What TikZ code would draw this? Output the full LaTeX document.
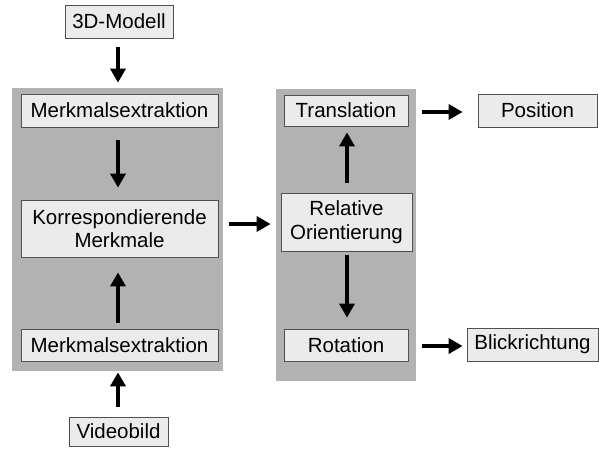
\documentclass[tikz,border=0pt]{standalone}
\usepackage{fontspec}
\setmainfont{Liberation Sans}
\usetikzlibrary{arrows.meta}
\definecolor{panelgray}{HTML}{B2B2B2}
\definecolor{boxfill}{HTML}{EBEBEB}
\definecolor{boxline}{HTML}{505050}
\begin{document}
\begin{tikzpicture}[x=1pt,y=-1pt,
  panel/.style={fill=panelgray, draw=none, inner sep=0pt},
  box/.style={fill=boxfill, draw=boxline, line width=0.8pt, inner sep=0pt, align=center,
    font=\fontsize{20.5}{23.5}\selectfont},
  flow/.style={line width=3.6pt, -{Triangle[length=14pt,width=15pt]}}]
\useasboundingbox (0,0) rectangle (599,448);
\fill[white] (0,0) rectangle (599,448);
% panels
\node[panel, minimum width=211pt, minimum height=283pt] (lp) at (117.5,229.5) {};
\node[panel, minimum width=140pt, minimum height=292pt] (rp) at (346,235) {};
% boxes
\node[box, minimum width=108pt, minimum height=33pt] (model) at (119,21.5) {3D-Modell};
\node[box, minimum width=197pt, minimum height=33pt] (me1) at (119.5,110.5) {Merkmalsextraktion};
\node[box, minimum width=197pt, minimum height=57pt] (korr) at (119.5,228.5) {Korrespondierende\\Merkmale};
\node[box, minimum width=197pt, minimum height=32pt] (me2) at (119.5,345) {Merkmalsextraktion};
\node[box, minimum width=99pt, minimum height=29pt] (video) at (118.5,431.5) {Videobild};
\node[box, minimum width=124pt, minimum height=31pt] (trans) at (346,110.5) {Translation};
\node[box, minimum width=131pt, minimum height=58pt] (relor) at (346.5,222) {Relative\\Orientierung};
\node[box, minimum width=124pt, minimum height=32pt] (rot) at (346,345) {Rotation};
\node[box, minimum width=119pt, minimum height=33pt] (pos) at (537.5,110.5) {Position};
\node[box, minimum width=131pt, minimum height=33pt] (blick) at (532.5,344.5) {Blickrichtung};
% arrows
\draw[flow, shorten <=9pt, shorten >=11pt] (model.south -| 118,0) -- (me1.north -| 118,0);
\draw[flow, shorten <=13pt, shorten >=12pt] (me1.south -| 118,0) -- (korr.north -| 118,0);
\draw[flow, shorten <=6pt, shorten >=15pt] (me2.north -| 118,0) -- (korr.south -| 118,0);
\draw[flow, shorten <=10pt, shorten >=11pt] (video.north -| 118,0) -- (me2.south -| 118,0);
\draw[flow, shorten <=11pt, shorten >=10pt] (korr.east |- 0,224) -- (relor.west |- 0,224);
\draw[flow, shorten <=10pt, shorten >=6pt] (relor.north -| 347,0) -- (trans.south -| 347,0);
\draw[flow, shorten <=4pt, shorten >=11pt] (relor.south -| 347,0) -- (rot.north -| 347,0);
\draw[flow, shorten <=14pt, shorten >=15pt] (trans.east |- 0,112) -- (pos.west |- 0,112);
\draw[flow, shorten <=14pt, shorten >=4pt] (rot.east |- 0,346) -- (blick.west |- 0,346);
\end{tikzpicture}
\end{document}
